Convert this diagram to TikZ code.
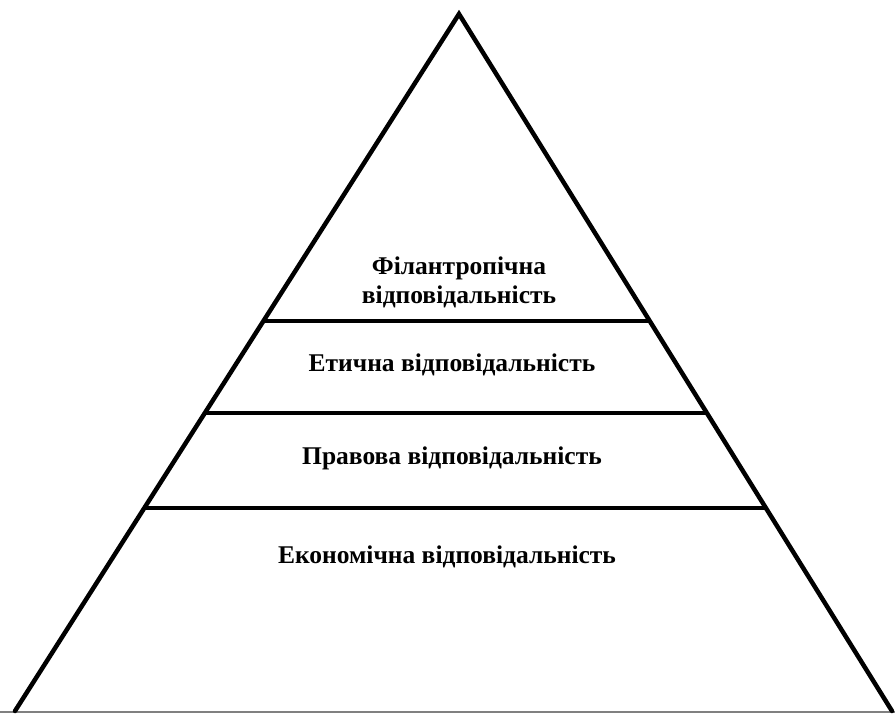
\documentclass[tikz,border=0pt]{standalone}
\usepackage{fontspec}
\setmainfont{Liberation Serif}
\usetikzlibrary{calc}
\begin{document}
\begin{tikzpicture}[x=1pt,y=-1pt,
  side/.style={line width=4.5pt,line cap=round,line join=miter},
  tier/.style={line width=3.5pt},
  lbl/.style={font=\fontsize{25.5}{29}\selectfont\bfseries,align=center,inner sep=0pt}]
\useasboundingbox (0,0) rectangle (895,713);
\coordinate (apex) at (459,14);
\coordinate (bl) at (15,711);
\coordinate (br) at (892,711);
\draw[gray,line width=1.5pt] (0,712) -- (895,712);
\draw[side] (bl) -- (apex) -- (br);
\coordinate (l1) at ($(apex)!0.4405!(bl)$);
\coordinate (r1) at ($(apex)!0.4405!(br)$);
\coordinate (l2) at ($(apex)!0.5725!(bl)$);
\coordinate (r2) at ($(apex)!0.5725!(br)$);
\coordinate (l3) at ($(apex)!0.7088!(bl)$);
\coordinate (r3) at ($(apex)!0.7088!(br)$);
\draw[tier] (l1) -- (r1);
\draw[tier] (l2) -- (r2);
\draw[tier] (l3) -- (r3);
\node[lbl] (t1) at (459,282) {Філантропічна\\відповідальність};
\node[lbl] (t2) at (452,365) {Етична відповідальність};
\node[lbl] (t3) at (452,458) {Правова відповідальність};
\node[lbl] (t4) at (447,557) {Економічна відповідальність};
\end{tikzpicture}
\end{document}
